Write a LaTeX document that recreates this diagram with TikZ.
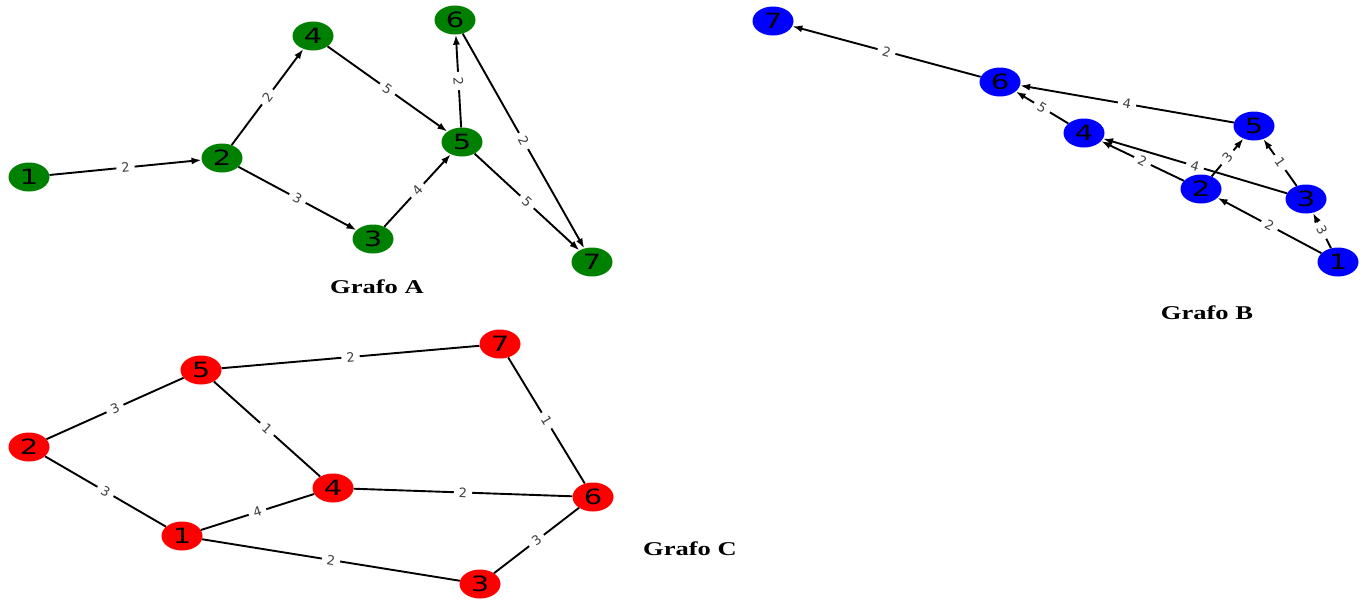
\documentclass[tikz,border=0pt]{standalone}
\usepackage{fontspec}
\usepackage{graphicx}
\setmainfont{Liberation Serif}
\newfontfamily\numfont{DejaVu Sans}
\usetikzlibrary{shapes.geometric,arrows.meta}
% wide digits inside the vertices
\newcommand\wdig[1]{\scalebox{1.38}[1]{#1}}
\newcommand\wtitle[1]{\scalebox{1.36}[1]{#1}}
\definecolor{gA}{HTML}{008000}
\definecolor{gB}{HTML}{0000FF}
\definecolor{gC}{HTML}{FF0000}
\begin{document}
\begin{tikzpicture}[x=1pt,y=-1pt,
  vtx/.style={ellipse, minimum width=41pt, minimum height=29pt, inner sep=0pt,
    font=\numfont\fontsize{21}{21}\selectfont, text=black},
  vA/.style={vtx, fill=gA},
  vB/.style={vtx, fill=gB},
  vC/.style={vtx, fill=gC},
  arr/.style={draw=black, line width=1.9pt, -{Latex[length=10pt,width=7pt]}},
  lnk/.style={draw=black, line width=1.9pt},
  wt/.style={sloped, midway, fill=white, inner xsep=5pt, inner ysep=1pt,
    font=\numfont\fontsize{13}{13}\selectfont, text=black!75},
  ttl/.style={font=\bfseries\fontsize{19.5}{19.5}\selectfont, text=black}
]
\useasboundingbox (0,0) rectangle (1363,600);

% ---------- Grafo A ----------
\node[vA] (a1) at (29,177) {\wdig{1}};
\node[vA] (a2) at (222,158) {\wdig{2}};
\node[vA] (a3) at (373,239) {\wdig{3}};
\node[vA] (a4) at (313,36) {\wdig{4}};
\node[vA] (a5) at (462,142) {\wdig{5}};
\node[vA] (a6) at (455,20) {\wdig{6}};
\node[vA] (a7) at (592,262) {\wdig{7}};
\draw[arr] (a1) -- node[wt]{2} (a2);
\draw[arr] (a2) -- node[wt]{2} (a4);
\draw[arr] (a2) -- node[wt]{3} (a3);
\draw[arr] (a4) -- node[wt]{5} (a5);
\draw[arr] (a3) -- node[wt]{4} (a5);
\draw[arr] (a5) -- node[wt]{2} (a6);
\draw[arr] (a6) -- node[wt]{2} (a7);
\draw[arr] (a5) -- node[wt]{5} (a7);
\node[ttl] (tA) at (377,287) {\wtitle{Grafo A}};

% ---------- Grafo B ----------
\node[vB] (b1) at (1338,262) {\wdig{1}};
\node[vB] (b2) at (1201,189) {\wdig{2}};
\node[vB] (b3) at (1306,199) {\wdig{3}};
\node[vB] (b4) at (1084,133) {\wdig{4}};
\node[vB] (b5) at (1254,126) {\wdig{5}};
\node[vB] (b6) at (1000,82) {\wdig{6}};
\node[vB] (b7) at (773,21) {\wdig{7}};
\draw[arr] (b6) -- node[wt]{2} (b7);
\draw[arr] (b5) -- node[wt]{4} (b6);
\draw[arr] (b4) -- node[wt]{5} (b6);
\draw[arr] (b2) -- node[wt]{2} (b4);
\draw[arr] (b3) -- node[wt]{4} (b4);
\draw[arr] (b2) -- node[wt]{3} (b5);
\draw[arr] (b3) -- node[wt]{1} (b5);
\draw[arr] (b1) -- node[wt]{2} (b2);
\draw[arr] (b1) -- node[wt]{3} (b3);
\node[ttl] (tB) at (1207,313) {\wtitle{Grafo B}};

% ---------- Grafo C ----------
\node[vC] (c1) at (182,536) {\wdig{1}};
\node[vC] (c2) at (29,447) {\wdig{2}};
\node[vC] (c3) at (480,584) {\wdig{3}};
\node[vC] (c4) at (333,488) {\wdig{4}};
\node[vC] (c5) at (201,370) {\wdig{5}};
\node[vC] (c6) at (593,497) {\wdig{6}};
\node[vC] (c7) at (500,344) {\wdig{7}};
\draw[lnk] (c2) -- node[wt]{3} (c5);
\draw[lnk] (c5) -- node[wt]{2} (c7);
\draw[lnk] (c5) -- node[wt]{1} (c4);
\draw[lnk] (c7) -- node[wt]{1} (c6);
\draw[lnk] (c2) -- node[wt]{3} (c1);
\draw[lnk] (c1) -- node[wt]{4} (c4);
\draw[lnk] (c4) -- node[wt]{2} (c6);
\draw[lnk] (c1) -- node[wt]{2} (c3);
\draw[lnk] (c3) -- node[wt]{3} (c6);
\node[ttl] (tC) at (690,549) {\wtitle{Grafo C}};
\end{tikzpicture}
\end{document}
